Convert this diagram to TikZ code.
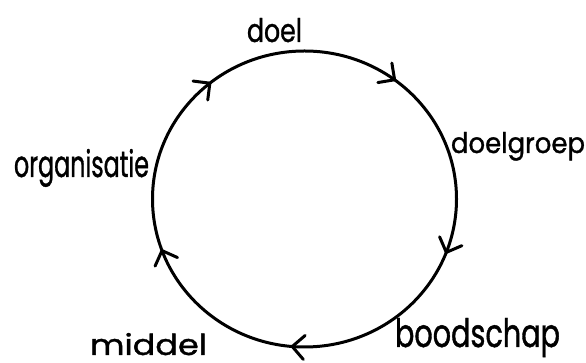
\documentclass[tikz,border=0pt]{standalone}
\usepackage{fontspec}
\setmainfont{Poppins}[FakeBold=1.2]
\usetikzlibrary{decorations.markings}
\begin{document}
\begin{tikzpicture}[x=1pt,y=1pt,
  lbl/.style={anchor=base,inner sep=0pt,text=black},
  vtip/.style={line width=3pt,line cap=round,line join=round},
  cyc/.style={line width=3pt,black,
    decoration={markings,
      mark=at position 0.102 with {\draw[vtip] (-12pt,12pt) -- (0,0) -- (-12pt,-12pt);},
      mark=at position 0.308 with {\draw[vtip] (-12pt,12pt) -- (0,0) -- (-12pt,-12pt);},
      mark=at position 0.513 with {\draw[vtip] (-12pt,12pt) -- (0,0) -- (-12pt,-12pt);},
      mark=at position 0.694 with {\draw[vtip] (-12pt,12pt) -- (0,0) -- (-12pt,-12pt);},
      mark=at position 0.892 with {\draw[vtip] (-12pt,12pt) -- (0,0) -- (-12pt,-12pt);}},
    postaction={decorate}}]
\useasboundingbox (0,0) rectangle (586,363);
\coordinate (c) at (304.5,164);
\draw[cyc] (c) ++(0,148) arc[start angle=90,end angle=-270,x radius=152,y radius=148];
\node[lbl] (doel) at (274.5,321) {\resizebox{55pt}{24pt}{doel}};
\node[lbl] (doelgroep) at (518,210) {\resizebox{134pt}{21pt}{doelgroep}};
\node[lbl] (organisatie) at (81.5,186) {\resizebox{135pt}{28pt}{organisatie}};
\node[lbl] (boodschap) at (477.5,16) {\resizebox{165pt}{29pt}{boodschap}};
\node[lbl] (middel) at (148.5,8) {\resizebox{117pt}{22pt}{middel}};
\end{tikzpicture}
\end{document}
